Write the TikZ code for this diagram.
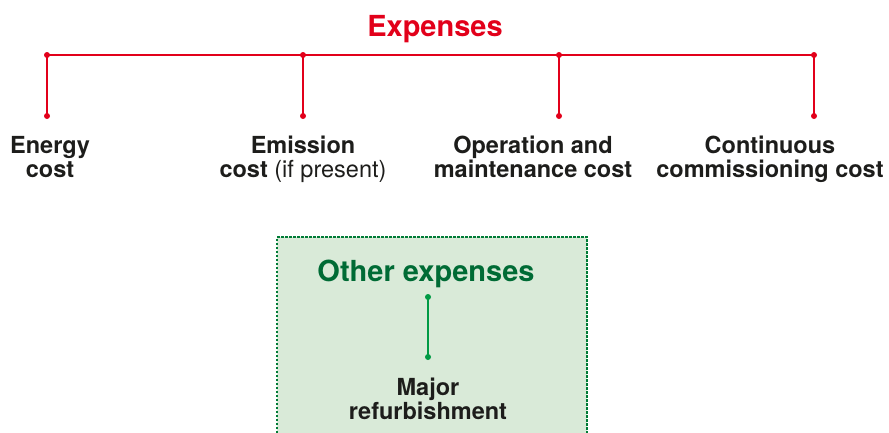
\documentclass[tikz,border=0pt]{standalone}
\usepackage{fontspec}
\setmainfont{TeX Gyre Heros}
\definecolor{expred}{HTML}{E2001A}
\definecolor{othgreen}{HTML}{006B35}
\definecolor{lingreen}{HTML}{009A44}
\definecolor{boxgreen}{HTML}{D9EAD8}
\definecolor{labelgray}{HTML}{1D1D1B}
\tikzset{
  rdot/.style={circle,fill=expred,inner sep=0pt,minimum size=6pt},
  gdot/.style={circle,fill=lingreen,inner sep=0pt,minimum size=6pt},
  costlabel/.style={align=center,anchor=base,inner sep=0pt,text=labelgray,
    font=\fontsize{23.5}{24}\selectfont\bfseries},
  headlabel/.style={anchor=base,inner sep=0pt,font=\fontsize{29}{32}\selectfont\bfseries}
}
\begin{document}
\begin{tikzpicture}[x=1pt,y=-1pt]
      \useasboundingbox (0,0) rectangle (889,432);
      % other expenses box
      \fill[boxgreen] (277,237) rectangle (587,445);
      \draw[lingreen!80!black,line width=1.3pt,dash pattern=on 2.5pt off 1.5pt]
        (277,445) -- (277,237) -- (587,237) -- (587,445);
      \draw
        (435,36) node[headlabel,text=expred] (exp){Expenses}
        (47,55) node[rdot] (t1){}
        (303,55) node[rdot] (t2){}
        (559,55) node[rdot] (t3){}
        (814,55) node[rdot] (t4){}
        (47,116) node[rdot] (b1){}
        (303,116) node[rdot] (b2){}
        (559,116) node[rdot] (b3){}
        (814,116) node[rdot] (b4){}
        (50,177) node[costlabel] (energy){Energy\\cost}
        (303,177) node[costlabel] (emission){Emission\\cost \mdseries(if present)}
        (533,177) node[costlabel] (operation){Operation and\\maintenance cost}
        (770,177) node[costlabel] (commission){Continuous\\commissioning cost}
        (426,281) node[headlabel,text=othgreen] (other){Other expenses}
        (428,297) node[gdot] (g1){}
        (428,357) node[gdot] (g2){}
        (428,419) node[costlabel] (refurb){Major\\refurbishment};
      \begin{scope}[expred,line width=1.5pt]
        \draw (t1.center) to (t4.center);
        \draw (t1.center) to (b1.center);
        \draw (t2.center) to (b2.center);
        \draw (t3.center) to (b3.center);
        \draw (t4.center) to (b4.center);
      \end{scope}
      \begin{scope}[lingreen,line width=1.5pt]
        \draw (g1.center) to (g2.center);
      \end{scope}
    \end{tikzpicture}
\end{document}
